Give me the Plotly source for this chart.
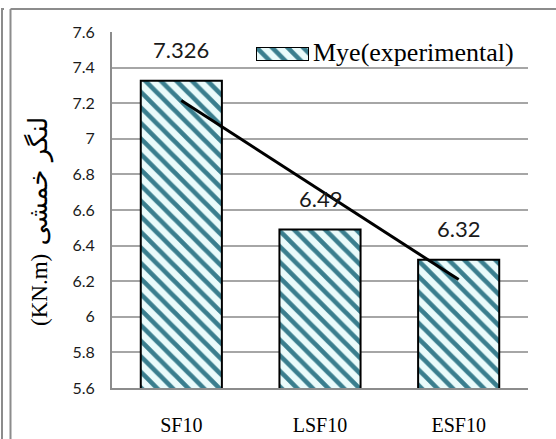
import numpy as np
import plotly.graph_objects as go

# Specimens and measured yield moment (KN.m)
categories = ["SF10", "LSF10", "ESF10"]
mye_values = [7.326, 6.49, 6.32]
value_labels = ["7.326", "6.49", "6.32"]
y_ticks = [5.6, 5.8, 6.0, 6.2, 6.4, 6.6, 6.8, 7.0, 7.2, 7.4, 7.6]
y_tick_text = ["5.6", "5.8", "6", "6.2", "6.4", "6.6", "6.8", "7", "7.2", "7.4", "7.6"]

series_name = "Mye(experimental)"
y_title_unit = "(KN.m)"
y_title_text = "لنگر خمشی"

# Figure geometry (pixels)
W, H = 556, 439
L, R, T, B = 112, 528, 32, 388


def px_x(p):
    return (p - L) / (R - L)


def px_y(p):
    return (B - p) / (B - T)


STRIPE = "#3A7E8E"
STRIPE_BG = "#EAFBFB"
pattern = dict(shape="\\", fgcolor=STRIPE, bgcolor=STRIPE_BG, size=11,
               solidity=0.42, fillmode="replace")

fig = go.Figure()

fig.add_trace(go.Bar(
    x=categories, y=mye_values, width=0.585,
    base=0,
    marker=dict(color=STRIPE_BG, pattern=pattern,
                line=dict(color="black", width=2)),
    showlegend=False, hoverinfo="skip",
))

# Linear trend line through the three bars
idx = np.arange(len(mye_values))
slope, intercept = np.polyfit(idx, mye_values, 1)
trend = slope * idx + intercept
fig.add_trace(go.Scatter(
    x=[categories[0], categories[-1]], y=[trend[0], trend[-1]],
    mode="lines", line=dict(color="black", width=3),
    showlegend=False, hoverinfo="skip",
))

# Legend key drawn as a single patterned bar on a small overlay axis
fig.add_trace(go.Bar(
    x=[0], y=[1], width=1, xaxis="x2", yaxis="y2",
    marker=dict(color=STRIPE_BG, pattern=pattern,
                line=dict(color="black", width=2)),
    showlegend=False, hoverinfo="skip",
))

# Value labels above each bar
for cat, val, txt in zip(categories, mye_values, value_labels):
    fig.add_annotation(x=cat, y=val, text=txt, showarrow=False,
                       yanchor="bottom", yshift=16,
                       font=dict(family="Lato", size=22, color="#1a1a1a"))

fig.add_annotation(xref="paper", yref="paper", x=px_x(311), y=px_y(53),
                   text=series_name, showarrow=False, xanchor="left",
                   yanchor="middle",
                   font=dict(family="Liberation Serif", size=26, color="black"))

fig.add_annotation(
    xref="paper", yref="paper", x=px_x(38), y=px_y(222),
    text=(f"<span style='font-family:Liberation Serif'>{y_title_unit}</span>"
          f"<span style='font-family:DejaVu Sans;font-size:26px'> {y_title_text}</span>"),
    showarrow=False, textangle=-90, xanchor="center", yanchor="middle",
    font=dict(family="Liberation Serif", size=23, color="black"))

# Outer frame lines
frame = dict(color="#8C8C8C", width=2)
fig.add_shape(type="line", xref="paper", yref="paper",
              x0=px_x(2), x1=px_x(2), y0=px_y(8), y1=px_y(439), line=frame)
fig.add_shape(type="line", xref="paper", yref="paper",
              x0=px_x(2), x1=px_x(4), y0=px_y(9), y1=px_y(9), line=frame)
fig.add_shape(type="line", xref="paper", yref="paper",
              x0=px_x(10.5), x1=px_x(10.5), y0=px_y(9), y1=px_y(439), line=frame)
fig.add_shape(type="line", xref="paper", yref="paper",
              x0=px_x(10.5), x1=px_x(556), y0=px_y(9), y1=px_y(9), line=frame)

fig.update_layout(
    width=W, height=H,
    margin=dict(l=L, r=W - R, t=T, b=H - B, pad=0, autoexpand=False),
    paper_bgcolor="white", plot_bgcolor="white",
    showlegend=False,
    xaxis=dict(
        type="category", range=[-0.5, 2.5], automargin=False,
        showgrid=False, showline=True, linecolor="#8C8C8C", linewidth=2,
        ticks="", ticklabelstandoff=18,
        tickfont=dict(family="Liberation Serif", size=20, color="black"),
    ),
    yaxis=dict(
        range=[5.6, 7.6], tickvals=y_ticks, ticktext=y_tick_text,
        automargin=False,
        showgrid=True, gridcolor="#A6A6A6", gridwidth=1.5,
        showline=True, linecolor="#8C8C8C", linewidth=2,
        ticks="", ticklabelstandoff=12, zeroline=False,
        tickfont=dict(family="Lato", size=16, color="#1a1a1a"),
    ),
    xaxis2=dict(domain=[px_x(256), px_x(309)], range=[-0.5, 0.5],
                anchor="y2", visible=False, fixedrange=True),
    yaxis2=dict(domain=[px_y(61), px_y(47)], range=[0, 1],
                anchor="x2", visible=False, fixedrange=True),
)

fig.write_html("out.html")
